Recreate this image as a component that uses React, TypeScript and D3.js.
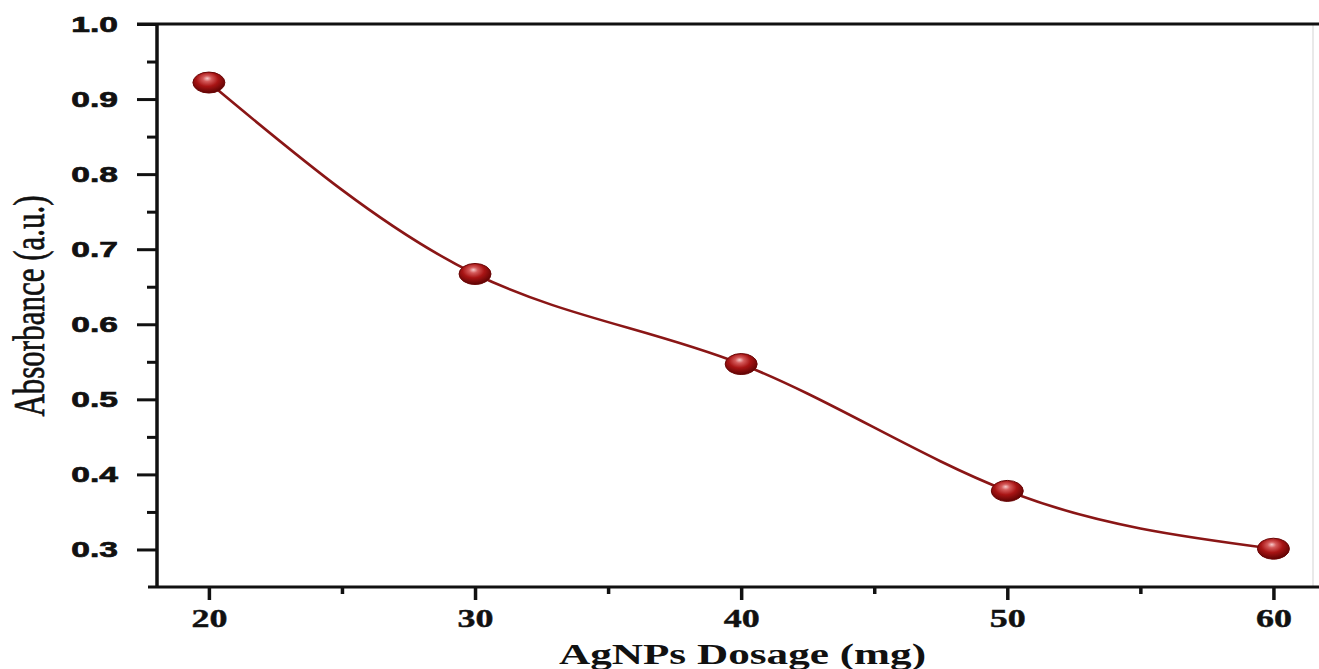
import React, { useEffect, useRef } from 'react';
import * as d3 from 'd3';

// Absorbance vs AgNPs dosage
const dosage = [20, 30, 40, 50, 60];
const absorbance = [0.922, 0.667, 0.547, 0.378, 0.301];
const xMajorTicks = [20, 30, 40, 50, 60];
const xMinorTicks = [25, 35, 45, 55];
const yMajorTicks = [0.3, 0.4, 0.5, 0.6, 0.7, 0.8, 0.9, 1.0];
const yMinorTicks = [0.35, 0.45, 0.55, 0.65, 0.75, 0.85, 0.95];

const W = 1319;
const H = 669;
const STRETCH = 1.44; // the figure is a bit wider than tall in its lettering

export default function App() {
  const svgRef = useRef<SVGSVGElement>(null);

  useEffect(() => {
    const svg = d3.select(svgRef.current);
    svg.selectAll('*').remove();

    const x = d3.scaleLinear().domain([18.05, 61.75]).range([157, 1320]);
    const y = d3.scaleLinear().domain([0.25, 1.0]).range([587, 24]);

    const defs = svg.append('defs');
    const grad = defs.append('radialGradient').attr('id', 'ball')
      .attr('cx', '45%').attr('cy', '38%').attr('r', '62%').attr('fx', '45%').attr('fy', '30%');
    grad.append('stop').attr('offset', '0%').attr('stop-color', '#f7c9c9');
    grad.append('stop').attr('offset', '22%').attr('stop-color', '#d45a5a');
    grad.append('stop').attr('offset', '55%').attr('stop-color', '#a81414');
    grad.append('stop').attr('offset', '100%').attr('stop-color', '#5e0303');

    // faint right border (image edge)
    svg.append('line').attr('x1', 1313).attr('x2', 1313).attr('y1', 24).attr('y2', 587)
      .attr('stroke', '#e2e2e2').attr('stroke-width', 1.5);

    // top frame line
    svg.append('line').attr('x1', 137).attr('x2', W).attr('y1', y(1.0)).attr('y2', y(1.0))
      .attr('stroke', '#111').attr('stroke-width', 3);

    // Y axis: major ticks
    const yAxis = svg.append('g').attr('transform', `translate(${x(18.05)},0)`)
      .call(d3.axisLeft(y).tickValues(yMajorTicks).tickSize(20).tickPadding(0)
        .tickFormat(d3.format('.1f')));
    yAxis.select('.domain').remove();
    yAxis.selectAll('.tick line').attr('stroke', '#111').attr('stroke-width', 3);
    yAxis.selectAll('.tick text')
      .attr('x', -39 / (STRETCH * 1.06))
      .attr('transform', `scale(${STRETCH * 1.06},1)`)
      .attr('fill', '#111')
      .attr('stroke', '#111').attr('stroke-width', 0.7)
      .attr('font-family', '"Liberation Sans", Arial, sans-serif')
      .attr('font-weight', 'bold')
      .attr('font-size', 22);

    // Y axis: minor ticks
    const yMinor = svg.append('g').attr('transform', `translate(${x(18.05)},0)`)
      .call(d3.axisLeft(y).tickValues(yMinorTicks).tickSize(10).tickFormat(() => ''));
    yMinor.select('.domain').remove();
    yMinor.selectAll('.tick line').attr('stroke', '#111').attr('stroke-width', 3);

    // left axis line
    svg.append('line').attr('x1', 157).attr('x2', 157).attr('y1', 23).attr('y2', 588)
      .attr('stroke', '#111').attr('stroke-width', 3.5);

    // X axis: major ticks
    const xAxis = svg.append('g').attr('transform', `translate(0,${y(0.25)})`)
      .call(d3.axisBottom(x).tickValues(xMajorTicks).tickSize(13).tickPadding(0)
        .tickFormat(d3.format('d')));
    xAxis.select('.domain').remove();
    xAxis.selectAll('.tick line').attr('stroke', '#111').attr('stroke-width', 3.5);
    xAxis.selectAll('.tick text')
      .attr('y', 40).attr('dy', 0)
      .attr('transform', `scale(${STRETCH},1)`)
      .attr('fill', '#111')
      .attr('stroke', '#111').attr('stroke-width', 0.4)
      .attr('font-family', '"Liberation Serif", "Times New Roman", serif')
      .attr('font-weight', 'bold')
      .attr('font-size', 25);

    // X axis: minor ticks
    const xMinor = svg.append('g').attr('transform', `translate(0,${y(0.25)})`)
      .call(d3.axisBottom(x).tickValues(xMinorTicks).tickSize(7).tickFormat(() => ''));
    xMinor.select('.domain').remove();
    xMinor.selectAll('.tick line').attr('stroke', '#111').attr('stroke-width', 3.5);

    // bottom axis line
    svg.append('line').attr('x1', 148).attr('x2', W).attr('y1', 587).attr('y2', 587)
      .attr('stroke', '#111').attr('stroke-width', 3);

    // axis titles
    svg.append('text')
      .attr('transform', `translate(${(547 + 938) / 2},664) scale(${STRETCH},1)`)
      .attr('text-anchor', 'middle')
      .attr('font-family', '"Liberation Serif", "Times New Roman", serif')
      .attr('font-weight', 'bold')
      .attr('font-size', 30)
      .attr('fill', '#111')
      .text('AgNPs Dosage (mg)');

    svg.append('text')
      .attr('transform', `translate(44,306) scale(${STRETCH},1) rotate(-90)`)
      .attr('text-anchor', 'middle')
      .attr('font-family', '"Liberation Serif", "Times New Roman", serif')
      .attr('font-size', 31)
      .attr('fill', '#111')
      .attr('stroke', '#111').attr('stroke-width', 0.5)
      .text('Absorbance (a.u.)');

    const pts = dosage.map((d, i) => [d, absorbance[i]] as [number, number]);

    // smooth connecting line
    const line = d3.line<[number, number]>()
      .x(d => x(d[0])).y(d => y(d[1]))
      .curve(d3.curveNatural);
    svg.append('path').datum(pts).attr('d', line)
      .attr('fill', 'none').attr('stroke', '#8a1616').attr('stroke-width', 2.6);

    // spherical markers
    svg.selectAll('.ball').data(pts).join('ellipse').attr('class', 'ball')
      .attr('cx', d => x(d[0])).attr('cy', d => y(d[1]))
      .attr('rx', 16).attr('ry', 10.5)
      .attr('fill', 'url(#ball)')
      .attr('stroke', '#6a0606').attr('stroke-width', 1);
  }, []);

  return (
    <div style={{ position: 'absolute', left: 0, top: 0, width: W, height: H, background: '#fff' }}>
      <svg ref={svgRef} width={W} height={H} style={{ display: 'block' }} />
    </div>
  );
}
